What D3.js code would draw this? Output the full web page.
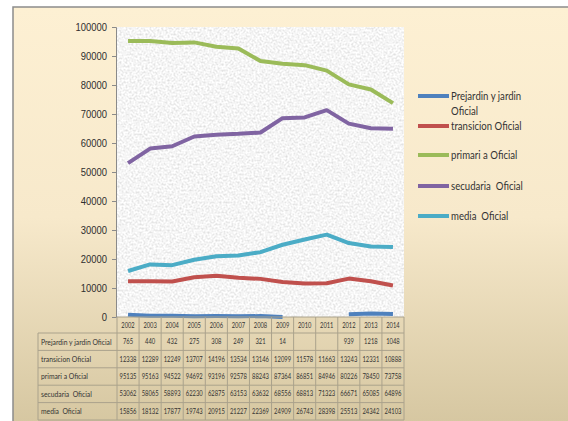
<!DOCTYPE html>
<html>
<head>
<meta charset="utf-8">
<script src="https://cdn.jsdelivr.net/npm/d3@7"></script>
<style>
  body { margin: 0; background: #fff; }
  svg { display: block; font-family: Lato, "Open Sans", sans-serif; }
  text { white-space: pre; }
</style>
</head>
<body>
<svg id="chart"></svg>
<script>
const years = ['2002', '2003', '2004', '2005', '2006', '2007', '2008', '2009', '2010', '2011', '2012', '2013', '2014'];

const prejardin = [765, 440, 432, 275, 308, 249, 321, 14, null, null, 939, 1218, 1048];
const transicion = [12338, 12289, 12249, 13707, 14196, 13534, 13146, 12099, 11578, 11663, 13243, 12331, 10888];
const primaria = [95135, 95163, 94522, 94692, 93196, 92578, 88243, 87364, 86851, 84946, 80226, 78450, 73758];
const secundaria = [53062, 58065, 58893, 62230, 62875, 63153, 63632, 68556, 68813, 71323, 66671, 65085, 64896];
const media = [15856, 18132, 17877, 19743, 20915, 21227, 22369, 24909, 26743, 28398, 25513, 24342, 24103];

const yTicks = [0, 10000, 20000, 30000, 40000, 50000, 60000, 70000, 80000, 90000, 100000];

const series = [
  { name: 'Prejardin y jardin Oficial', legend: ['Prejardin y jardin', 'Oficial'], values: prejardin, color: '#4f81bd' },
  { name: 'transicion Oficial', legend: ['transicion Oficial'], values: transicion, color: '#c0504d' },
  { name: 'primari a Oficial', legend: ['primari a Oficial'], values: primaria, color: '#9bbb59' },
  { name: 'secudaria  Oficial', legend: ['secudaria  Oficial'], values: secundaria, color: '#8064a2' },
  { name: 'media  Oficial', legend: ['media  Oficial'], values: media, color: '#4bacc6' }
];

const width = 568;
const height = 421;

const plot = { left: 117, right: 404, top: 27, bottom: 317 };
const tableLeft = 38;
const headerH = 16;
const rowH = 17.4;
const squeeze = 0.8; // the source text looks horizontally squashed

const svg = d3.select('#chart')
  .attr('width', width)
  .attr('height', height);

const defs = svg.append('defs');

const grad = defs.append('linearGradient')
  .attr('id', 'bg')
  .attr('x1', 0).attr('y1', 0)
  .attr('x2', 0).attr('y2', 1);
grad.append('stop').attr('offset', '0%').attr('stop-color', '#fdf0d3');
grad.append('stop').attr('offset', '50%').attr('stop-color', '#f7e9cb');
grad.append('stop').attr('offset', '100%').attr('stop-color', '#d5c6a0');

const tex = defs.append('filter')
  .attr('id', 'tex')
  .attr('x', 0).attr('y', 0)
  .attr('width', 1).attr('height', 1);
tex.append('feTurbulence')
  .attr('type', 'fractalNoise')
  .attr('baseFrequency', 0.5)
  .attr('numOctaves', 4)
  .attr('seed', 7);
tex.append('feColorMatrix')
  .attr('type', 'matrix')
  .attr('values', '0.55 0 0 0 0.64  0.55 0 0 0 0.64  0.55 0 0 0 0.64  0 0 0 0 1');

function place(sel, px, py) {
  sel.attr('x', 0).attr('y', 0)
    .attr('transform', (d, i) => {
      const xx = typeof px === 'function' ? px(d, i) : px;
      const yy = typeof py === 'function' ? py(d, i) : py;
      return `translate(${xx},${yy}) scale(${squeeze},1)`;
    });
}

// frame
svg.append('rect')
  .attr('x', 13)
  .attr('y', 7)
  .attr('width', width)
  .attr('height', height)
  .attr('fill', 'url(#bg)')
  .attr('stroke', '#8c8c8c')
  .attr('stroke-width', 1.5);

const x = d3.scaleBand()
  .domain(years)
  .range([plot.left, plot.right]);

const y = d3.scaleLinear()
  .domain([0, 100000])
  .range([plot.bottom, plot.top]);

// textured plot area
svg.append('rect')
  .attr('x', plot.left)
  .attr('y', plot.top)
  .attr('width', plot.right - plot.left)
  .attr('height', plot.bottom - plot.top)
  .attr('filter', 'url(#tex)');

// y axis
const yAxis = svg.append('g')
  .attr('transform', `translate(${plot.left - 1},0)`)
  .call(d3.axisLeft(y).tickValues(yTicks).tickSize(4).tickPadding(4).tickFormat(d3.format('d')));
yAxis.select('.domain').attr('stroke', '#8a8a8a');
yAxis.selectAll('.tick line').attr('stroke', '#8a8a8a');
yAxis.selectAll('.tick text')
  .attr('fill', '#2e2e2e')
  .style('font-size', '11.8px')
  .style('font-family', null)
  .call(place, -9, 0);

// lines
const line = d3.line()
  .defined(d => d.v !== null)
  .x(d => x(d.year) + x.bandwidth() / 2)
  .y(d => y(d.v));

svg.append('g')
  .selectAll('path')
  .data(series)
  .enter()
  .append('path')
  .attr('fill', 'none')
  .attr('stroke', d => d.color)
  .attr('stroke-width', 4)
  .attr('stroke-linejoin', 'round')
  .attr('d', d => line(d.values.map((v, i) => ({ year: years[i], v: v }))));

// data table
const table = svg.append('g')
  .attr('fill', 'none')
  .attr('stroke', '#aaa28c')
  .attr('stroke-width', 1);

const tableBottom = plot.bottom + headerH + rowH * series.length;

table.append('line')
  .attr('x1', plot.left).attr('x2', plot.right)
  .attr('y1', plot.bottom).attr('y2', plot.bottom);

d3.range(series.length + 1).forEach(i => {
  const yy = plot.bottom + headerH + rowH * i;
  table.append('line')
    .attr('x1', tableLeft).attr('x2', plot.right)
    .attr('y1', yy).attr('y2', yy);
});

table.append('line')
  .attr('x1', tableLeft).attr('x2', tableLeft)
  .attr('y1', plot.bottom + headerH).attr('y2', tableBottom);
d3.range(years.length + 1).forEach(i => {
  const xx = plot.left + x.bandwidth() * i;
  table.append('line')
    .attr('x1', xx).attr('x2', xx)
    .attr('y1', plot.bottom).attr('y2', tableBottom);
});

const tableText = svg.append('g').attr('fill', '#333');

tableText.selectAll('text.year')
  .data(years)
  .enter()
  .append('text')
  .attr('dy', '0.35em')
  .attr('text-anchor', 'middle')
  .style('font-size', '7.2px')
  .text(d => d)
  .call(place, d => x(d) + x.bandwidth() / 2, plot.bottom + headerH / 2);

series.forEach((s, r) => {
  const cy = plot.bottom + headerH + rowH * r + rowH / 2;
  tableText.append('text')
    .attr('dy', '0.35em')
    .style('font-size', '8.5px')
    .text(s.name)
    .call(place, tableLeft + 3, cy);
  tableText.selectAll(null)
    .data(s.values)
    .enter()
    .append('text')
    .attr('dy', '0.35em')
    .attr('text-anchor', 'middle')
    .style('font-size', '7.3px')
    .text(d => d === null ? '' : d)
    .call(place, (d, i) => x(years[i]) + x.bandwidth() / 2, cy);
});

// legend
const legendY = [96, 126, 155, 186, 216];
const legend = svg.append('g');
series.forEach((s, i) => {
  const g = legend.append('g').attr('transform', `translate(418,${legendY[i]})`);
  g.append('line')
    .attr('x1', 0).attr('x2', 31)
    .attr('stroke', s.color)
    .attr('stroke-width', 4);
  s.legend.forEach((t, k) => {
    g.append('text')
      .attr('dy', '0.35em')
      .attr('fill', '#333')
      .style('font-size', '12px')
      .text(t)
      .call(place, 33, k * 15);
  });
});
</script>
</body>
</html>
